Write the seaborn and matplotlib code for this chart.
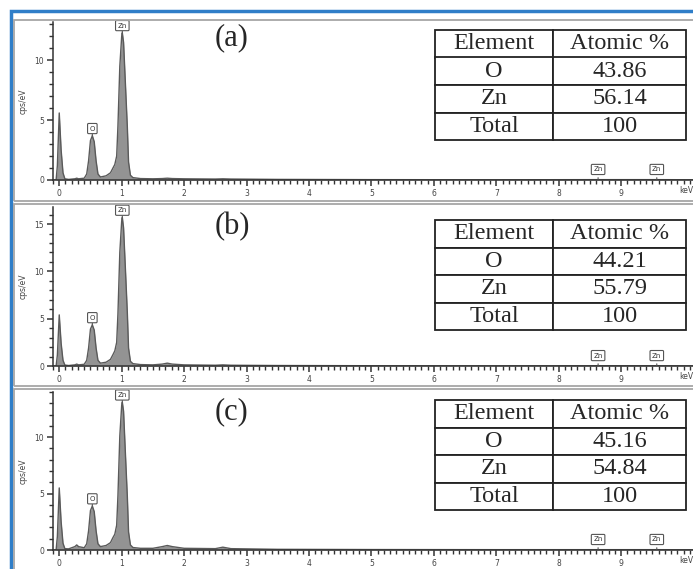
import matplotlib
matplotlib.use("Agg")
import matplotlib.pyplot as plt
import matplotlib.patches as patches
from matplotlib.ticker import MultipleLocator
import seaborn as sns

sns.set_style("ticks")

W, H = 693, 569

# energy axis (keV) points
energy = [-0.10, -0.05, -0.03, 0.0, 0.03, 0.06, 0.09, 0.15, 0.25, 0.28, 0.31,
          0.40, 0.44, 0.47, 0.50, 0.53, 0.56, 0.59, 0.62, 0.66,
          0.75, 0.82, 0.86, 0.89, 0.92, 0.94, 0.97, 1.00, 1.01, 1.03,
          1.06, 1.09, 1.11, 1.14, 1.18,
          1.3, 1.5, 1.65, 1.73, 1.81, 2.0, 2.5, 2.62, 2.75, 3.5, 5.0, 7.0, 8.6, 9.6, 10.2]

counts_a = [0, 0, 1.2, 5.6, 2.5, 0.6, 0.1, 0.05, 0.1, 0.15, 0.1,
            0.15, 0.5, 1.6, 3.3, 3.7, 3.2, 1.6, 0.5, 0.25,
            0.35, 0.6, 1.0, 1.3, 2.0, 4.5, 9.5, 12.0, 12.3, 11.5,
            8.0, 4.5, 1.5, 0.4, 0.2,
            0.12, 0.1, 0.12, 0.15, 0.12, 0.1, 0.08, 0.1, 0.08, 0.05, 0.03, 0.02, 0.03, 0.03, 0.02]

counts_b = [0, 0, 1.15, 5.4, 2.4, 0.6, 0.1, 0.05, 0.12, 0.2, 0.12,
            0.18, 0.6, 1.9, 3.9, 4.35, 3.8, 1.9, 0.6, 0.3,
            0.4, 0.7, 1.2, 1.6, 2.5, 5.5, 12.0, 15.3, 15.7, 14.6,
            10.2, 5.7, 1.9, 0.5, 0.25,
            0.15, 0.12, 0.2, 0.3, 0.2, 0.12, 0.08, 0.12, 0.08, 0.05, 0.03, 0.02, 0.03, 0.03, 0.02]

counts_c = [0, 0, 1.2, 5.5, 2.5, 0.6, 0.12, 0.1, 0.3, 0.45, 0.3,
            0.2, 0.55, 1.7, 3.5, 3.9, 3.4, 1.7, 0.55, 0.3,
            0.4, 0.65, 1.1, 1.4, 2.2, 4.8, 10.1, 12.8, 13.1, 12.3,
            8.5, 4.8, 1.6, 0.45, 0.22,
            0.15, 0.15, 0.3, 0.4, 0.3, 0.15, 0.12, 0.25, 0.12, 0.06, 0.04, 0.03, 0.03, 0.03, 0.02]

# peak positions and label heights
o_peak = 0.53
zn_peak = 1.01
zn_k = [8.63, 9.57]
peak_o = [3.7, 4.35, 3.9]
peak_zn = [12.3, 15.7, 13.1]

ylims = [13.2, 16.8, 14.0]
yticks = [[0, 5, 10], [0, 5, 10, 15], [0, 5, 10]]
letters = ["(a)", "(b)", "(c)"]

elements = ["O", "Zn", "Total"]
atomic = [["43.86", "56.14", "100"],
          ["44.21", "55.79", "100"],
          ["45.16", "54.84", "100"]]

spectra = [counts_a, counts_b, counts_c]

# panel geometry in pixels
ax_top = [22, 207, 392]
ax_bot = [180, 366, 550]
box_top = [20, 204, 389]
box_bot = [201, 386, 580]
tab_top = [30, 220, 400]
lab_y = [38, 227, 412]


def rect(l, t, w, h):
    return [l / W, 1 - (t + h) / H, w / W, h / H]


fig = plt.figure(figsize=(W / 100, H / 100), dpi=100)

# outer blue frame
fig.patches.append(patches.Rectangle((11 / W, -0.1), 1.2, 1 - 11 / H + 0.1, fill=False,
                                     ec="#2f7ec8", lw=2.5, transform=fig.transFigure))

for i in range(3):
    fig.patches.append(patches.Rectangle((14 / W, 1 - box_bot[i] / H), 1.0,
                                         (box_bot[i] - box_top[i]) / H, fill=False,
                                         ec="#a6a6a6", lw=1.3, transform=fig.transFigure))

    ax = fig.add_axes(rect(53, ax_top[i], 640, ax_bot[i] - ax_top[i]))
    ax.set_facecolor("none")
    sns.lineplot(x=energy, y=spectra[i], ax=ax, color="#5a5a5a", lw=1.0)
    ax.fill_between(energy, spectra[i], color="#939393", lw=0)
    ax.set_xlim(-0.1, 10.15)
    ax.set_ylim(0, ylims[i])
    sns.despine(ax=ax, top=True, right=True)
    for s in ["left", "bottom"]:
        ax.spines[s].set_color("#333333")
        ax.spines[s].set_linewidth(1.1)
    ax.set_xticks(range(0, 10))
    ax.xaxis.set_minor_locator(MultipleLocator(0.1))
    ax.set_yticks(yticks[i])
    ax.yaxis.set_minor_locator(MultipleLocator(1))
    ax.tick_params(axis="both", which="major", length=4.5, width=1.1, color="#333333",
                   labelsize=5.5, labelcolor="#444444", pad=2)
    ax.tick_params(axis="both", which="minor", length=3, width=1.0, color="#333333")
    ax.set_ylabel("cps/eV", fontsize=5.5, color="#444444", labelpad=5)
    ax.text(1.0, -0.065, "keV", transform=ax.transAxes, fontsize=5.5, color="#444444",
            ha="right", va="center")

    box = dict(boxstyle="round,pad=0.3,rounding_size=0.15", fc="white",
               ec="#555555", lw=0.8)
    ax.annotate("Zn", xy=(zn_peak, peak_zn[i]), xytext=(0, 3), textcoords="offset points",
                ha="center", va="bottom", fontsize=5, color="#333333", bbox=box,
                arrowprops=dict(arrowstyle="-", color="#555555", lw=0.8))
    ax.annotate("O", xy=(o_peak, peak_o[i]), xytext=(0, 3), textcoords="offset points",
                ha="center", va="bottom", fontsize=5, color="#333333", bbox=box,
                arrowprops=dict(arrowstyle="-", color="#555555", lw=0.8))
    for xk in zn_k:
        ax.annotate("Zn", xy=(xk, 0.05), xytext=(0, 5), textcoords="offset points",
                    ha="center", va="bottom", fontsize=5, color="#333333", bbox=box,
                    arrowprops=dict(arrowstyle="-", color="#555555", lw=0.8))

    fig.text(232 / W, 1 - lab_y[i] / H, letters[i], fontsize=22,
             family="Liberation Serif", ha="center", va="center")

    tax = fig.add_axes(rect(435, tab_top[i], 251, 110))
    tax.axis("off")
    cells = [[e, v] for e, v in zip(elements, atomic[i])]
    tb = tax.table(cellText=cells, colLabels=["Element", "Atomic %"],
                   cellLoc="center", bbox=[0, 0, 1, 1], colWidths=[118, 133])
    tb.auto_set_font_size(False)
    for (r, c), cell in tb.get_celld().items():
        cell.set_edgecolor("#222222")
        cell.set_linewidth(1.3)
        cell.get_text().set_fontsize(17.5)
        cell.get_text().set_fontfamily("Liberation Serif")

fig.savefig("out.png", dpi=100)
